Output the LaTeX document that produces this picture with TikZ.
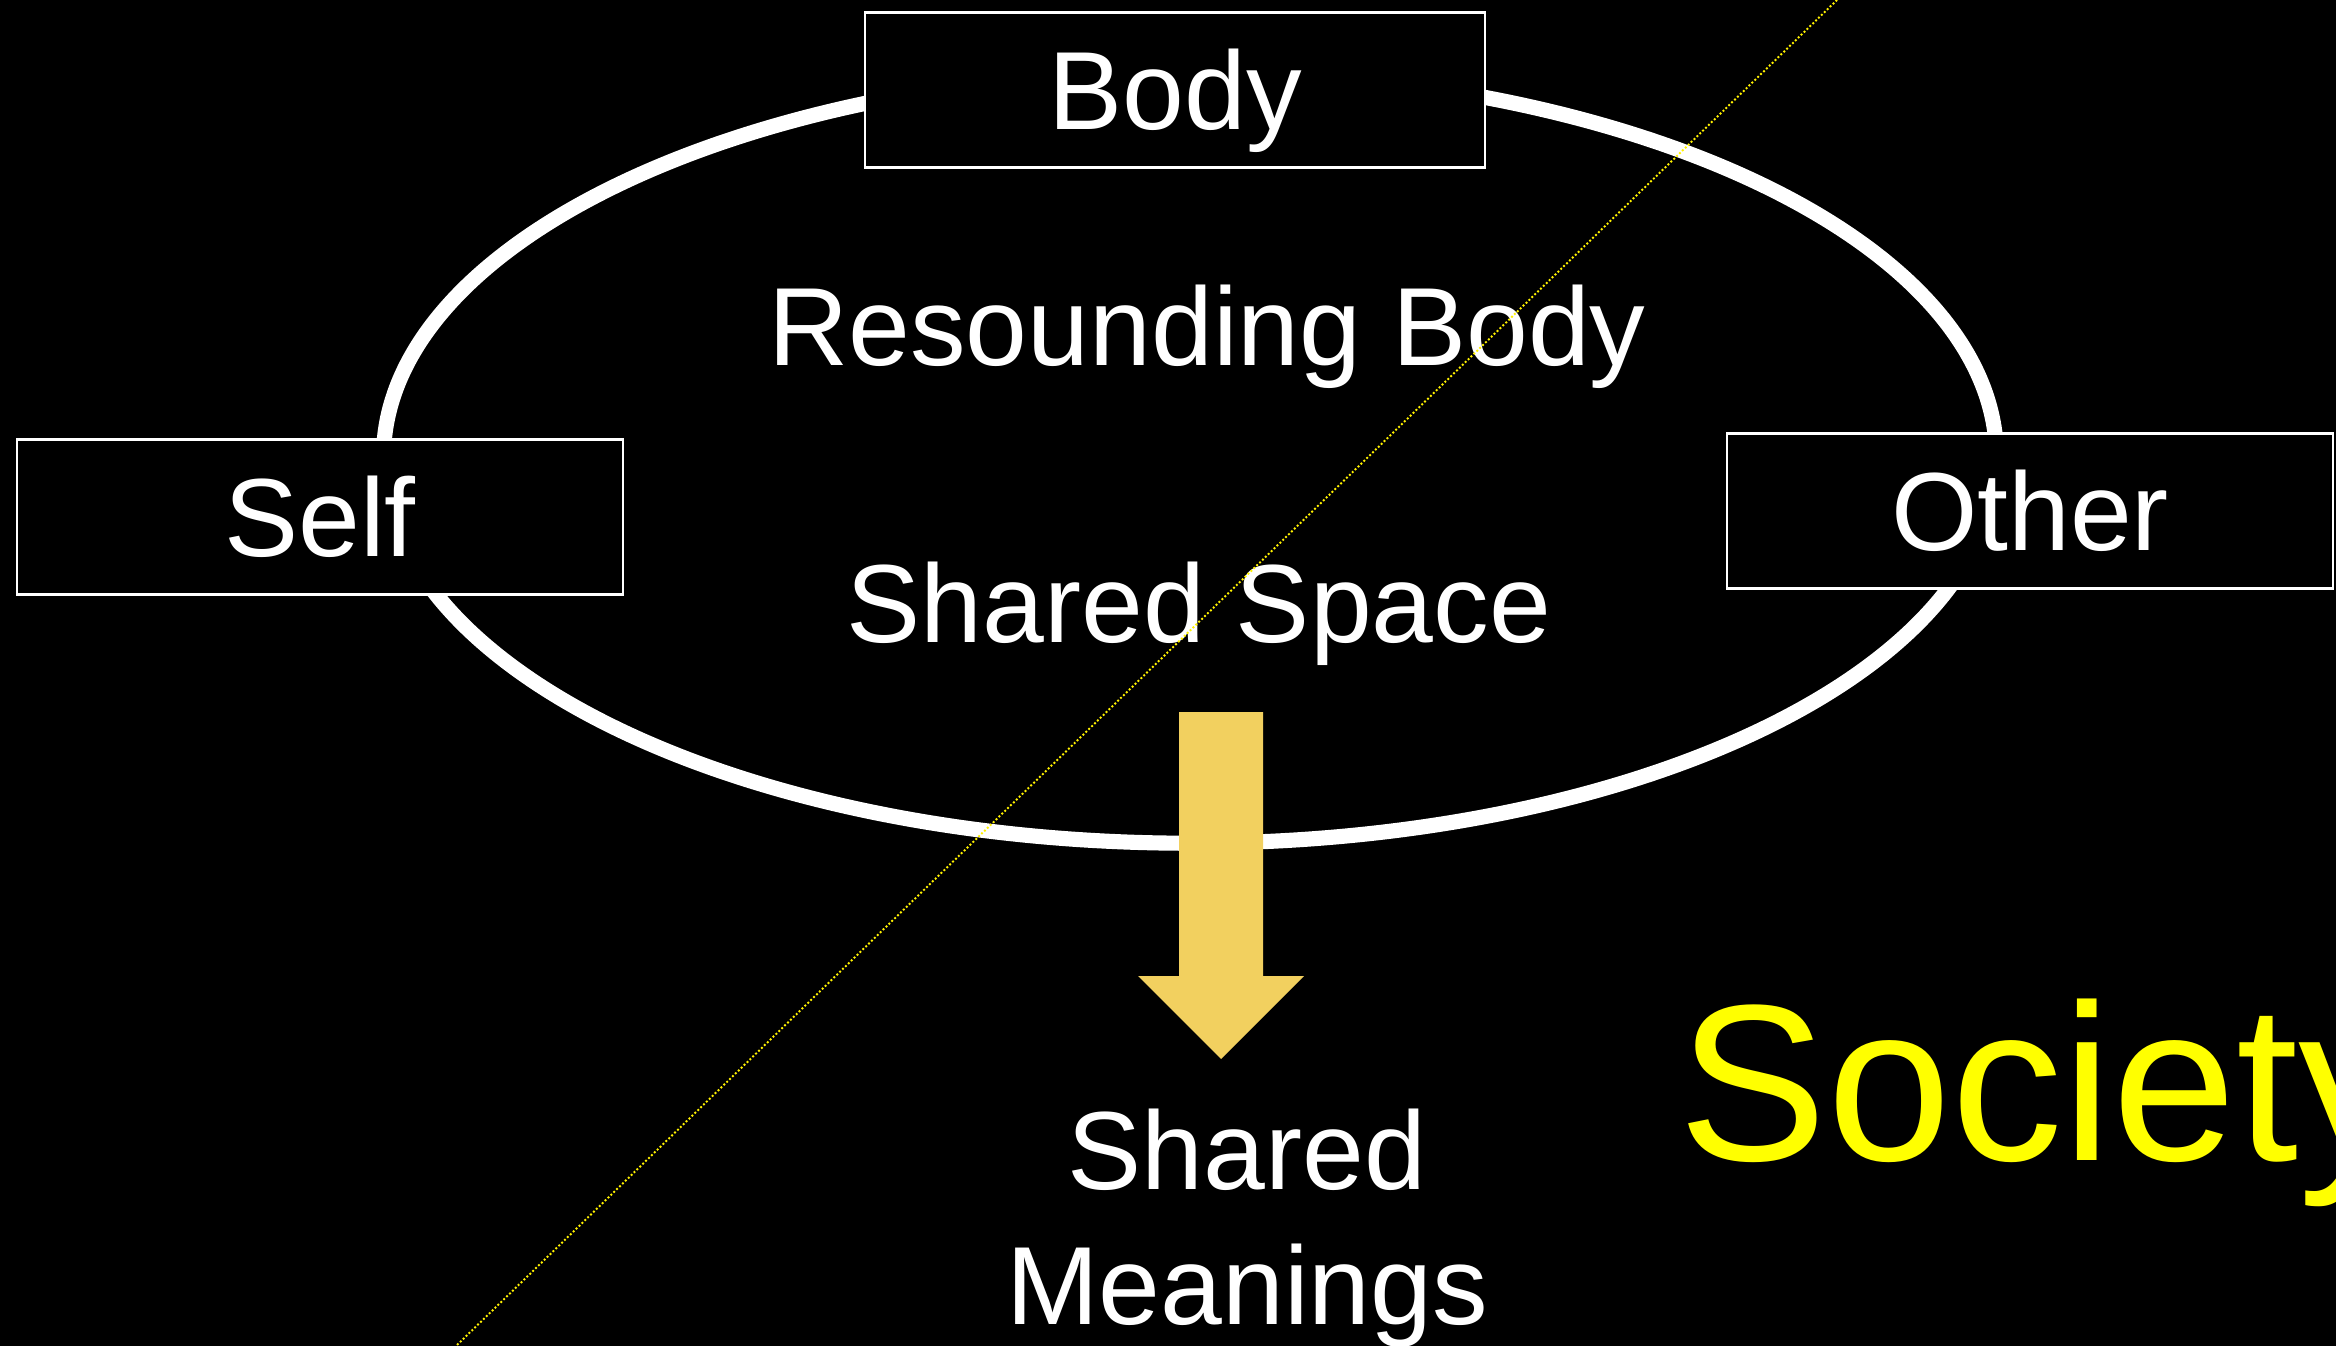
\documentclass[tikz,border=0pt]{standalone}
\usepackage{fontspec}
\setmainfont{Liberation Sans}
\usetikzlibrary{positioning}
\definecolor{goldarrow}{RGB}{242,208,95}
\definecolor{societyyellow}{RGB}{255,255,0}

\begin{document}
\begin{tikzpicture}[x=0.01cm,y=-0.01cm,
box/.style={draw=white,line width=0.6pt,fill=black,text=white,minimum height=1.55cm,inner sep=0pt,
  text height=22.6pt,text depth=0pt,font=\fontsize{31.6}{38.4}\selectfont},
label/.style={text=white,align=center,inner sep=0pt,font=\fontsize{31.6}{38.4}\selectfont},
ring/.style={white,line width=4.3pt},guide/.style={yellow,line width=0.55pt,dash pattern=on 0.55pt off 0.6pt}]
\fill[black] (0,0) rectangle (2336,1346);
\useasboundingbox (0,0) rectangle (2336,1346);
\draw[ring] (1190,457) ellipse [x radius=8.06cm,y radius=3.86cm];
\foreach \n/\x/\y/\w/\t in {body/1175/90/6.19/Body,self/320/517/6.05/Self,other/2030/511/6.05/Other}
  \node[box,minimum width=\w cm] (\n) at (\x,\y) {\t};
\node[label,anchor=base] (resound) at (1207,366) {Resounding Body};
\node[label,anchor=base] (space) at (1199,642) {Shared Space};
\fill[goldarrow] (1179,712) -- (1263,712) -- (1263,976) -- (1304,976) -- (1221,1059)
  -- (1138,976) -- (1179,976) -- cycle;
\node[label] (meanings) at (1247,1228) {Shared\\Meanings};
\node[text=societyyellow,anchor=base west,inner sep=0pt,font=\fontsize{63.4}{76}\selectfont] (society) at (1678,1160) {Society};
\draw[guide] (1837,0) -- (456,1346);
\end{tikzpicture}
\end{document}
